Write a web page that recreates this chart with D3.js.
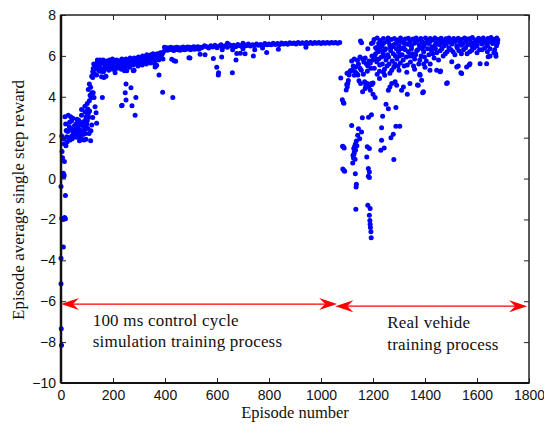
<!DOCTYPE html>
<html><head><meta charset="utf-8">
<script src="https://cdn.jsdelivr.net/npm/d3@7"></script>
<style>body{margin:0;background:#fff;} svg{display:block;}</style>
</head><body>
<svg id="chart" width="544" height="426"></svg>
<script>
// ---------------- data ----------------
const xTicks = [0,200,400,600,800,1000,1200,1400,1600,1800];
const yTicks = [-10,-8,-6,-4,-2,0,2,4,6,8];
const xLabel = "Episode number";
const yLabel = "Episode average single step reward";

// [episode, reward] - simulation phase, first episodes and ramp
const simStartPoints = [
[0,-3.9],[0,-5.15],[1,-7.35],[2,-8.15],[9,-3.35],[3,-1.95],[8,-2.0],[14,-1.9],[17,-1.97],[0,-0.39],
[17,-0.83],[9,0.26],[12,0.18],[11,0.1],[13,0.83],[6,1.02],[4,1.32],[3,2.08],[10,1.95],[12,1.7],
[15,3.02],[28,3.1],[37,3.02],[18,2.67],[22,2.05],[19,1.6],[24,1.8],[35,1.89],[47,2.13],[54,2.54],
[60,2.7],[45,2.3],[67,2.05],[71,1.85],[83,2.3],[88,1.89],[79,3.1],[92,3.27],[96,2.94],[101,2.83],
[105,3.19],[79,3.38],[92,3.54],[101,3.67],[109,3.8],[112,4.08],[105,4.36],[109,4.62],[114,4.46],[124,4.2],
[127,3.97],[131,3.51],[135,3.22],[137,2.7],[122,2.99],[118,2.62],[115,2.34],[114,1.85],[96,1.92],[58,2.02],
[41,2.08],[63,2.3],[73,2.37],[76,2.67],[58,2.46],[86,2.78],[32,2.54],[41,2.83],[50,2.3],[71,2.13],
[92,2.54],[99,2.67],[26,2.3],[30,2.0],[38,2.45],[43,1.95],[52,2.6],[56,2.2],[64,2.55],[68,2.85],
[75,2.25],[81,2.6],[85,2.15],[90,2.4],[94,2.2],[98,3.05],[103,3.4],[107,3.0],[110,3.3],[116,3.95],
[119,4.2],[103,2.45],[108,2.2],[20,2.35],[33,2.75],[46,2.95],[62,2.9],[78,1.95],[66,2.4],
[118,5.0],[122,5.22],[124,5.38],[128,5.14],[131,5.5],[137,5.63],[137,5.06],[144,5.71],[147,5.27],[150,5.8],
[156,4.98],[163,5.22],[165,4.94],[173,5.0],[122,4.94],[126,5.6],[133,5.35],[140,5.8]
];

// simulation phase, converged band
const simBandPoints = [
[142,5.45],[146,5.7],[150,5.55],[154,5.35],[158,5.65],[162,5.8],[166,5.3],[170,5.55],[174,5.75],[178,5.4],
[182,5.6],[186,5.8],[190,5.45],[194,5.65],[198,5.85],[202,5.5],[206,5.7],[210,5.4],[214,5.8],[218,5.55],
[222,5.75],[226,5.45],[230,5.65],[234,5.85],[238,5.5],[242,5.7],[246,5.45],[250,5.85],[254,5.6],[258,5.75],
[262,5.5],[266,5.9],[270,5.65],[274,5.8],[278,5.55],[282,5.9],[286,5.7],[290,5.85],[294,5.6],[298,5.95],
[302,5.75],[306,5.9],[310,5.65],[314,6.0],[318,5.8],[322,5.95],[326,5.7],[330,6.05],[334,5.85],[338,5.95],
[342,5.75],[346,6.05],[350,5.9],[354,6.1],[358,5.85],[362,6.05],[366,5.95],[370,6.1],[374,5.9],[378,6.05],
[382,6.15],[386,5.95],[390,6.1],[394,6.2],
[152,5.25],[168,5.45],[184,5.3],[200,5.35],[216,5.4],[232,5.35],[248,5.6],[264,5.45],[280,5.7],[296,5.5],
[312,5.55],[328,5.6],[344,5.65],[360,5.75],[376,5.8],[392,5.85],
[398,6.42],[402,6.3],[406,6.4],[410,6.28],[414,6.38],[418,6.32],[422,6.42],[426,6.3],[430,6.38],[434,6.26],
[438,6.4],[442,6.33],[446,6.42],[450,6.3],[454,6.38],[458,6.28],[462,6.4],[466,6.34],[470,6.43],[474,6.3],
[478,6.38],[482,6.32],[486,6.44],[490,6.36],[494,6.42],[498,6.3],[502,6.4],[506,6.35],[510,6.45],[514,6.32],
[518,6.42],[522,6.36],[526,6.45],[530,6.33],[534,6.42],[538,6.38],
[544,6.42],[552,6.5],[560,6.45],[568,6.38],[576,6.5],[584,6.44],[592,6.52],[600,6.4],[608,6.48],[616,6.55],
[624,6.45],[632,6.5],[640,6.42],[648,6.55],[656,6.48],[664,6.52],[672,6.45],[680,6.56],[688,6.5],[696,6.46],
[704,6.55],[712,6.5],[720,6.58],[728,6.48],[736,6.54],[744,6.5],[752,6.58],[760,6.52],[768,6.56],[776,6.5],
[784,6.6],[792,6.54],[800,6.58],[808,6.55],[816,6.62],[824,6.56],[832,6.6],[840,6.55],[848,6.63],[856,6.58],
[864,6.62],[872,6.57],[880,6.64],[888,6.6],[896,6.63],[904,6.58],[912,6.65],[920,6.6],[928,6.64],[936,6.6],
[944,6.66],[952,6.61],[960,6.65],[968,6.6],[976,6.66],[984,6.62],[992,6.65],[1000,6.61],[1008,6.66],[1016,6.62],
[1024,6.65],[1032,6.62],[1040,6.66],[1048,6.63],[1056,6.65],[1064,6.62],[1072,6.65],
[620,6.3],[660,6.3],[700,6.35],[745,6.3],[775,6.38],[700,6.62],[640,6.62]
];

// simulation phase, isolated low episodes
const simOutlierPoints = [
[159,3.97],[208,5.18],[233,3.56],[235,3.58],[244,5.27],[247,4.2],[250,4.62],[250,3.84],[253,5.27],[269,4.44],
[273,3.56],[281,5.3],[285,3.1],[288,3.97],[278,5.27],[359,5.64],[365,5.5],[362,5.46],[368,5.54],[377,5.06],
[391,4.22],[430,3.97],[426,5.83],[435,5.76],[441,5.74],[492,5.91],[496,5.9],[535,6.08],[554,6.06],[586,5.87],
[599,5.44],[605,5.07],[606,5.17],[618,5.95],[659,5.17],[673,5.8],[676,6.12],[690,6.13],[708,6.1],[740,6.0],
[791,6.16],[836,6.32],[942,6.42]
];

// real vehicle phase, upper band
const realBandPoints = [
[1152,6.73],[1156,6.64],[1180,6.35],[1194,6.6],
[1204,6.8],[1210,6.4],[1216,6.88],[1222,6.62],[1228,6.75],[1234,6.5],[1240,6.85],[1246,6.3],[1252,6.7],[1258,6.88],
[1264,6.55],[1270,6.8],[1276,6.45],[1282,6.85],[1288,6.62],[1294,6.78],[1300,6.5],[1306,6.88],[1312,6.68],[1318,6.4],
[1324,6.82],[1330,6.58],[1336,6.86],[1342,6.7],[1348,6.48],[1354,6.82],[1360,6.62],[1366,6.88],[1372,6.75],[1378,6.55],
[1384,6.85],[1390,6.68],[1396,6.5],[1402,6.88],[1408,6.72],[1414,6.6],[1420,6.85],[1426,6.45],[1432,6.78],[1438,6.88],
[1444,6.62],[1450,6.8],[1456,6.55],[1462,6.86],[1468,6.7],[1474,6.5],[1480,6.84],[1486,6.65],[1492,6.88],[1498,6.75],
[1504,6.58],[1510,6.85],[1516,6.7],[1522,6.48],[1528,6.86],[1534,6.66],[1540,6.8],[1546,6.6],[1552,6.88],[1558,6.72],
[1564,6.55],[1570,6.84],[1576,6.68],[1582,6.9],[1588,6.6],[1594,6.78],[1600,6.5],[1606,6.86],[1612,6.7],[1618,6.58],
[1624,6.88],[1630,6.75],[1636,6.62],[1642,6.85],[1648,6.68],[1654,6.9],[1660,6.6],[1666,6.8],[1672,6.72],[1676,6.88],
[1678,6.62],[1680,6.78],
[1200,6.65],[1220,6.45],[1240,6.6],[1260,6.72],[1280,6.55],[1300,6.72],[1320,6.62],[1340,6.55],[1360,6.78],[1380,6.45],
[1400,6.62],[1420,6.7],[1440,6.55],[1460,6.68],[1480,6.58],[1500,6.65],[1520,6.78],[1540,6.52],[1560,6.82],[1580,6.5],
[1600,6.7],[1620,6.8],[1640,6.5],[1660,6.75],[1675,6.5],[1677,6.65]
];

// real vehicle phase, second tier
const realMidPoints = [
[1118,5.75],[1124,5.5],[1128,5.85],[1133,5.46],[1140,5.79],[1144,5.6],[1150,5.95],[1155,5.3],[1160,5.85],[1165,5.7],
[1170,5.9],[1175,5.6],[1180,5.5],[1185,5.75],[1190,5.65],[1196,6.0],[1200,5.8],
[1205,5.4],[1210,6.1],[1215,5.7],[1220,6.2],[1226,5.55],[1232,5.95],[1238,6.15],[1244,5.35],[1250,5.8],[1256,6.05],
[1262,5.6],[1268,6.25],[1274,5.75],[1280,5.45],[1286,6.0],[1292,5.85],[1298,6.2],
[1305,5.65],[1312,6.05],[1320,5.5],[1328,5.95],[1336,6.2],[1344,5.7],[1352,6.1],[1360,5.85],[1368,6.25],[1376,5.6],
[1385,6.0],[1395,6.2],[1405,5.75],[1415,6.05],[1425,6.25],[1435,5.9],[1445,6.15],
[1458,6.25],[1470,6.0],[1485,6.2],[1500,6.3],[1515,6.05],[1530,6.25],[1548,6.3],[1562,6.1],[1580,6.28],[1600,6.15],
[1620,6.3],[1640,6.2],[1650,6.0],[1668,6.3],[1672,6.11],[1673,5.98],
[1208,5.9],[1214,6.35],[1222,5.85],[1229,6.3],[1236,5.6],[1242,6.0],[1248,6.35],[1254,5.5],[1260,5.95],[1266,6.4],
[1272,5.3],[1278,6.1],[1284,5.6],[1290,6.35],[1296,5.5],[1302,6.0],[1308,6.35],[1316,5.8],[1324,6.3],[1332,5.55],
[1340,6.0],[1348,6.35],[1356,5.5],[1364,6.05],[1372,6.3],[1380,5.8],[1390,6.35],[1398,5.95],[1410,6.35],[1420,5.6],
[1430,6.1],[1440,6.35],[1452,5.8],[1465,6.35],[1478,6.1],[1492,6.4],[1508,6.2],[1524,6.4],[1540,6.1],[1556,6.4],
[1572,6.2],[1590,6.4],[1610,6.3],[1630,6.4],[1650,6.35],[1665,6.15],[1225,5.25],[1245,5.05],[1265,5.15],[1300,5.3],
[1330,5.2],[1360,5.35],[1395,5.6],[1150,5.4],[1163,5.1],[1178,5.25],[1192,5.4],[1120,5.3],[1128,5.05]
];

// real vehicle phase, scattered low episodes
const realLowPoints = [
[1076,4.92],[1082,3.85],[1086,3.72],[1088,3.68],[1083,1.58],[1086,1.55],[1089,1.5],[1084,0.47],[1088,0.4],[1091,0.36],
[1097,4.33],[1101,4.49],[1103,4.65],[1105,4.8],[1108,5.06],[1110,5.22],[1114,5.28],[1100,5.15],[1099,4.6],
[1118,2.6],[1144,2.44],[1156,2.28],[1141,2.12],[1149,1.95],[1136,1.84],[1132,1.68],[1126,1.47],[1128,1.3],[1123,1.14],
[1122,0.76],[1132,0.24],[1136,-0.28],[1135,-0.41],[1134,-1.5],[1129,1.55],[1133,1.4],[1127,1.2],[1131,0.95],[1138,1.6],
[1125,1.0],[1159,2.98],[1178,1.55],[1186,1.47],[1176,1.06],[1182,0.49],[1186,0.32],[1182,0.11],[1186,0.05],
[1180,-1.31],[1189,-1.47],[1186,-1.8],[1188,-2.05],[1189,-2.24],[1190,-2.4],[1192,-2.6],[1193,-2.9],
[1183,3.0],[1194,3.12],[1237,3.05],[1233,2.48],[1233,1.87],[1230,1.38],[1243,1.5],[1269,2.0],[1278,2.17],[1280,0.93],
[1288,2.56],[1303,2.56],[1250,3.63],[1259,3.42],[1288,3.47],[1208,3.96],
[1131,5.22],[1137,5.14],[1142,5.06],[1146,4.78],[1152,4.65],[1160,4.24],[1168,4.73],[1172,4.56],[1170,4.4],[1178,4.65],
[1184,4.48],[1190,4.32],[1194,4.65],[1200,4.68],[1200,4.12],[1196,4.6],[1216,5.1],[1225,4.9],[1240,5.2],[1259,4.32],
[1265,4.48],[1272,4.65],[1285,4.73],[1291,4.56],[1310,4.32],[1317,4.48],[1332,4.12],[1342,4.65],[1374,4.56],[1387,4.81],
[1394,4.24],[1381,5.05],[1419,5.3],[1445,5.3],[1458,5.22],[1483,4.65],[1503,5.71],[1522,5.46],[1541,5.14],[1560,5.46],
[1573,5.62],[1612,5.62],[1637,5.62],[1643,5.96],[1349,6.0],[1400,5.44],[1460,5.26],[1528,5.5],[1570,5.55],[1380,5.1],
[1371,4.58],[1391,4.2],[1486,4.69],[1538,5.18]
];

// phase annotations: [startEpisode, endEpisode, level]
const simArrow = [0, 1062, -6.14];
const realArrow = [1055, 1793, -6.24];
const simText = ["100 ms control cycle", "simulation training process"];
const realText = ["Real vehide", "training process"];
const simTextPos = [122, -7.21];
const realTextPos = [1255, -7.31];

// ---------------- drawing ----------------
const svg = d3.select("#chart");
const x = d3.scaleLinear().domain([0,1800]).range([61,529]);
const y = d3.scaleLinear().domain([-10,8]).range([383,15]);

const sans = "'Liberation Sans', Arial, sans-serif";
const serif = "'Liberation Serif', 'Times New Roman', serif";

// dots
const allPoints = [].concat(simStartPoints, simBandPoints, simOutlierPoints, realBandPoints, realMidPoints, realLowPoints);
svg.append("g").selectAll("circle").data(allPoints).join("circle")
  .attr("cx", d => x(d[0])).attr("cy", d => y(d[1])).attr("r", 2.5)
  .attr("fill", "#0000ff");

// axes
function styleAxis(g){
  g.select(".domain").remove();
  g.selectAll(".tick line").attr("stroke","#222").attr("stroke-width",1);
  g.selectAll(".tick text").attr("fill","#111").style("font-family", sans).style("font-size","14px");
}
svg.append("g").attr("transform","translate(0,383)")
  .call(d3.axisBottom(x).tickValues(xTicks).tickSizeInner(-5).tickSizeOuter(0).tickPadding(7).tickFormat(d3.format("d")))
  .call(styleAxis);
svg.append("g").attr("transform","translate(0,15)")
  .call(d3.axisTop(x).tickValues(xTicks).tickSizeInner(-5).tickSizeOuter(0).tickFormat(""))
  .call(styleAxis);
svg.append("g").attr("transform","translate(61,0)")
  .call(d3.axisLeft(y).tickValues(yTicks).tickSizeInner(-5).tickSizeOuter(0).tickPadding(5).tickFormat(d3.format("d")))
  .call(styleAxis);
svg.append("g").attr("transform","translate(529,0)")
  .call(d3.axisRight(y).tickValues(yTicks).tickSizeInner(-5).tickSizeOuter(0).tickFormat(""))
  .call(styleAxis);

// frame
svg.append("rect").attr("x",x(0)).attr("y",y(8)).attr("width",x(1800)-x(0)).attr("height",y(-10)-y(8))
  .attr("fill","none").attr("stroke","#222").attr("stroke-width",1.5);
svg.append("line").attr("x1",x(0)).attr("x2",x(0)).attr("y1",y(8)).attr("y2",y(-10))
  .attr("stroke","#111").attr("stroke-width",2.5);
svg.append("line").attr("x1",x(0)).attr("x2",x(1800)).attr("y1",y(-10)).attr("y2",y(-10))
  .attr("stroke","#111").attr("stroke-width",2);

// arrows
function arrowHead(px, py, dir){
  const L=18, W=6, N=12;
  const p = [[0,0],[-L,-W],[-N,0],[-L,W]].map(q => [px + dir*q[0], py + q[1]]);
  svg.append("path").attr("d","M"+p.map(q=>q.join(",")).join("L")+"Z").attr("fill","#ff0000");
}
function doubleArrow(a){
  const x1=x(a[0]), x2=x(a[1]), yy=y(a[2]);
  svg.append("line").attr("x1",x1+10).attr("x2",x2-10).attr("y1",yy).attr("y2",yy)
    .attr("stroke","#ff0000").attr("stroke-width",1.2);
  arrowHead(x1, yy, -1);
  arrowHead(x2, yy, 1);
}
doubleArrow(simArrow);
doubleArrow(realArrow);

// annotation text
function block(lines, pos){
  const t = svg.append("text").attr("x", x(pos[0])).attr("y", y(pos[1]))
    .style("font-family", serif).style("font-size","17px").style("letter-spacing","0.2px").attr("fill","#111");
  lines.forEach((s,i) => t.append("tspan").attr("x", x(pos[0])).attr("dy", i===0 ? 0 : 21.5).text(s));
}
block(simText, simTextPos);
block(realText, realTextPos);

// axis titles
svg.append("text").attr("x", 295).attr("y", 418).attr("text-anchor","middle")
  .style("font-family", serif).style("font-size","16.5px").attr("fill","#111").text(xLabel);
svg.append("text").attr("transform","translate(24,200) rotate(-90)").attr("text-anchor","middle")
  .style("font-family", serif).style("font-size","17px").attr("fill","#111").text(yLabel);
</script>
</body></html>
